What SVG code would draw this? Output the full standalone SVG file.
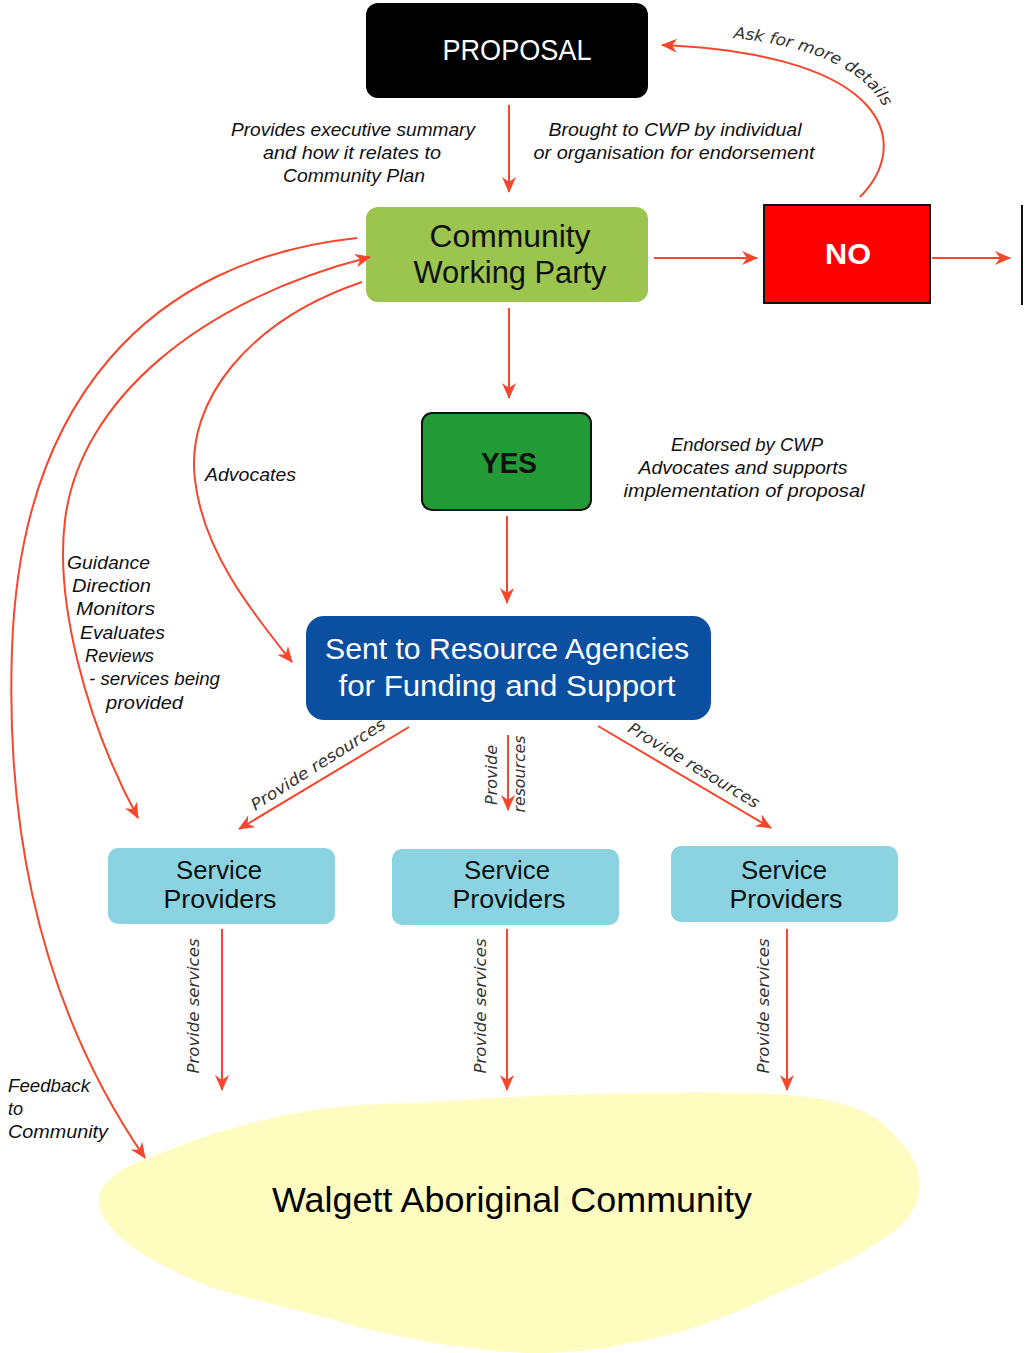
<svg xmlns="http://www.w3.org/2000/svg" width="1029" height="1353" viewBox="0 0 1029 1353">
<defs>
<marker id="ah" markerUnits="userSpaceOnUse" markerWidth="18" markerHeight="14" refX="15" refY="7" orient="auto-start-reverse" viewBox="0 0 18 14">
<path d="M0,0 L16,7 L0,14 L5,7 Z" fill="#f4472d"/>
</marker>
</defs>
<style>
.c{fill:none;stroke:#f4472d;stroke-width:2}
.it{font-family:"Liberation Sans",Arial,sans-serif;font-style:italic;font-size:18px;fill:#111}
.lb{font-family:"Liberation Sans",Arial,sans-serif;text-anchor:middle}
.ob{font-family:"DejaVu Sans","Open Sans",sans-serif;font-style:italic;font-size:16px;fill:#333}
</style>
<rect width="1029" height="1353" fill="#fff"/>

<g id="community">
<path d="M99,1200 C98,1185 120,1168 144,1160 C250,1115 330,1103 419,1103 C500,1097 580,1093 659,1093 C720,1092 770,1093 808,1097 C850,1103 875,1115 886,1127 C905,1145 918,1160 919,1180 C922,1205 905,1225 886,1237 C850,1262 815,1277 778,1293 C720,1320 680,1335 629,1343 C600,1350 560,1354 527,1353 C470,1350 410,1340 359,1327 C300,1310 250,1300 210,1287 C170,1270 140,1255 120,1237 C105,1222 99,1212 99,1200 Z" fill="#fffcbf"/>
<text class="lb" x="512" y="1212" font-size="35" fill="#000" textLength="480" lengthAdjust="spacingAndGlyphs">Walgett Aboriginal Community</text>
</g>

<g id="proposal">
<rect x="366" y="3" width="282" height="95" rx="12" fill="#000"/>
<text class="lb" x="517" y="60" font-size="29" fill="#fff" textLength="149" lengthAdjust="spacingAndGlyphs">PROPOSAL</text>
</g>

<g id="cwp">
<rect x="366" y="207" width="282" height="95" rx="12" fill="#9bc54f"/>
<text class="lb" x="510" y="247" font-size="31" fill="#111" textLength="161" lengthAdjust="spacingAndGlyphs">Community</text>
<text class="lb" x="510" y="283" font-size="31" fill="#111" textLength="193" lengthAdjust="spacingAndGlyphs">Working Party</text>
</g>

<g id="no">
<rect x="764" y="205" width="166" height="98" fill="#ff0000" stroke="#111" stroke-width="2"/>
<text class="lb" x="848" y="264" font-size="30" font-weight="bold" fill="#fff" textLength="46" lengthAdjust="spacingAndGlyphs">NO</text>
</g>

<g id="offpage">
<line x1="1022" y1="205" x2="1022" y2="305" stroke="#111" stroke-width="2"/>
</g>

<g id="yes">
<rect x="422" y="413" width="169" height="97" rx="10" fill="#229a36" stroke="#111" stroke-width="2"/>
<text class="lb" x="509" y="473" font-size="30" font-weight="bold" fill="#111" textLength="56" lengthAdjust="spacingAndGlyphs">YES</text>
</g>

<g id="sent">
<rect x="306" y="616" width="405" height="104" rx="18" fill="#0b50a0"/>
<text class="lb" x="507" y="659" font-size="30" fill="#fff" textLength="364" lengthAdjust="spacingAndGlyphs">Sent to Resource Agencies</text>
<text class="lb" x="507" y="696" font-size="30" fill="#fff" textLength="337" lengthAdjust="spacingAndGlyphs">for Funding and Support</text>
</g>

<g id="sp1">
<rect x="108" y="848" width="227" height="76" rx="10" fill="#8bd3e1"/>
<text class="lb" x="219" y="879" font-size="25" fill="#111" textLength="86" lengthAdjust="spacingAndGlyphs">Service</text>
<text class="lb" x="220" y="908" font-size="25" fill="#111" textLength="113" lengthAdjust="spacingAndGlyphs">Providers</text>
</g>
<g id="sp2">
<rect x="392" y="849" width="227" height="76" rx="10" fill="#8bd3e1"/>
<text class="lb" x="507" y="879" font-size="25" fill="#111" textLength="86" lengthAdjust="spacingAndGlyphs">Service</text>
<text class="lb" x="509" y="908" font-size="25" fill="#111" textLength="113" lengthAdjust="spacingAndGlyphs">Providers</text>
</g>
<g id="sp3">
<rect x="671" y="846" width="227" height="76" rx="10" fill="#8bd3e1"/>
<text class="lb" x="784" y="879" font-size="25" fill="#111" textLength="86" lengthAdjust="spacingAndGlyphs">Service</text>
<text class="lb" x="786" y="908" font-size="25" fill="#111" textLength="113" lengthAdjust="spacingAndGlyphs">Providers</text>
</g>

<g id="connectors">
<line class="c" x1="509" y1="105" x2="509" y2="192" marker-end="url(#ah)"/>
<line class="c" x1="654" y1="258" x2="757" y2="258" marker-end="url(#ah)"/>
<line class="c" x1="932" y1="258" x2="1010" y2="258" marker-end="url(#ah)"/>
<path class="c" d="M860,197 C912,145 892,55 662,45" marker-end="url(#ah)"/>
<line class="c" x1="509" y1="308" x2="509" y2="398" marker-end="url(#ah)"/>
<line class="c" x1="507" y1="516" x2="507" y2="603" marker-end="url(#ah)"/>
<path class="c" d="M357,238 C150,260 20,400 12,650 C5,850 50,1020 145,1158" marker-end="url(#ah)"/>
<path class="c" d="M138,818 C85,720 55,600 65,520 C80,400 200,300 370,257" marker-start="url(#ah)" marker-end="url(#ah)"/>
<path class="c" d="M362,282 C250,320 185,400 195,480 C203,550 250,610 292,662" marker-end="url(#ah)"/>
<line class="c" x1="409" y1="727" x2="239" y2="829" marker-end="url(#ah)"/>
<line class="c" x1="508" y1="735" x2="508" y2="810" marker-end="url(#ah)"/>
<line class="c" x1="598" y1="726" x2="771" y2="828" marker-end="url(#ah)"/>
<line class="c" x1="222" y1="929" x2="222" y2="1090" marker-end="url(#ah)"/>
<line class="c" x1="507" y1="929" x2="507" y2="1090" marker-end="url(#ah)"/>
<line class="c" x1="787" y1="929" x2="787" y2="1090" marker-end="url(#ah)"/>
</g>

<g id="labels">
<text class="it" x="353" y="136" text-anchor="middle" textLength="244" lengthAdjust="spacingAndGlyphs">Provides executive summary</text>
<text class="it" x="352" y="159" text-anchor="middle" textLength="178" lengthAdjust="spacingAndGlyphs">and how it relates to</text>
<text class="it" x="354" y="182" text-anchor="middle" textLength="142" lengthAdjust="spacingAndGlyphs">Community Plan</text>
<text class="it" x="675" y="136" text-anchor="middle" textLength="253" lengthAdjust="spacingAndGlyphs">Brought to CWP by individual</text>
<text class="it" x="674" y="159" text-anchor="middle" textLength="281" lengthAdjust="spacingAndGlyphs">or organisation for endorsement</text>
<path id="askp" d="M733,38 C812,46 868,70 886,112" fill="none"/>
<text class="ob" font-size="17"><textPath href="#askp" textLength="172" lengthAdjust="spacingAndGlyphs">Ask for more details</textPath></text>
<text class="it" x="747" y="451" text-anchor="middle" textLength="152" lengthAdjust="spacingAndGlyphs">Endorsed by CWP</text>
<text class="it" x="743" y="474" text-anchor="middle" textLength="209" lengthAdjust="spacingAndGlyphs">Advocates and supports</text>
<text class="it" x="744" y="497" text-anchor="middle" textLength="241" lengthAdjust="spacingAndGlyphs">implementation of proposal</text>
<text class="it" x="205" y="481" textLength="91" lengthAdjust="spacingAndGlyphs">Advocates</text>
<text class="it" x="67" y="569" textLength="83" lengthAdjust="spacingAndGlyphs">Guidance</text>
<text class="it" x="72" y="592" textLength="79" lengthAdjust="spacingAndGlyphs">Direction</text>
<text class="it" x="76" y="615" textLength="79" lengthAdjust="spacingAndGlyphs">Monitors</text>
<text class="it" x="80" y="639" textLength="85" lengthAdjust="spacingAndGlyphs">Evaluates</text>
<text class="it" x="85" y="662" textLength="69" lengthAdjust="spacingAndGlyphs">Reviews</text>
<text class="it" x="89" y="685" textLength="131" lengthAdjust="spacingAndGlyphs">- services being</text>
<text class="it" x="106" y="709" textLength="77" lengthAdjust="spacingAndGlyphs">provided</text>
<text class="it" x="8" y="1092" textLength="82" lengthAdjust="spacingAndGlyphs">Feedback</text>
<text class="it" x="8" y="1115">to</text>
<text class="it" x="8" y="1138" textLength="100" lengthAdjust="spacingAndGlyphs">Community</text>
<text class="ob" transform="translate(321,769) rotate(-32.5)" x="0" y="0" text-anchor="middle" textLength="156" lengthAdjust="spacingAndGlyphs">Provide resources</text>
<text class="ob" transform="translate(691,770) rotate(31)" x="0" y="0" text-anchor="middle" textLength="150" lengthAdjust="spacingAndGlyphs">Provide resources</text>
<text class="ob" transform="translate(497,775) rotate(-90)" x="0" y="0" text-anchor="middle" textLength="60" lengthAdjust="spacingAndGlyphs">Provide</text>
<text class="ob" transform="translate(525,774) rotate(-90)" x="0" y="0" text-anchor="middle" textLength="77" lengthAdjust="spacingAndGlyphs">resources</text>
<text class="ob" transform="translate(199,1006) rotate(-90)" x="0" y="0" text-anchor="middle" textLength="135" lengthAdjust="spacingAndGlyphs">Provide services</text>
<text class="ob" transform="translate(486,1006) rotate(-90)" x="0" y="0" text-anchor="middle" textLength="135" lengthAdjust="spacingAndGlyphs">Provide services</text>
<text class="ob" transform="translate(769,1006) rotate(-90)" x="0" y="0" text-anchor="middle" textLength="135" lengthAdjust="spacingAndGlyphs">Provide services</text>
</g>
</svg>
